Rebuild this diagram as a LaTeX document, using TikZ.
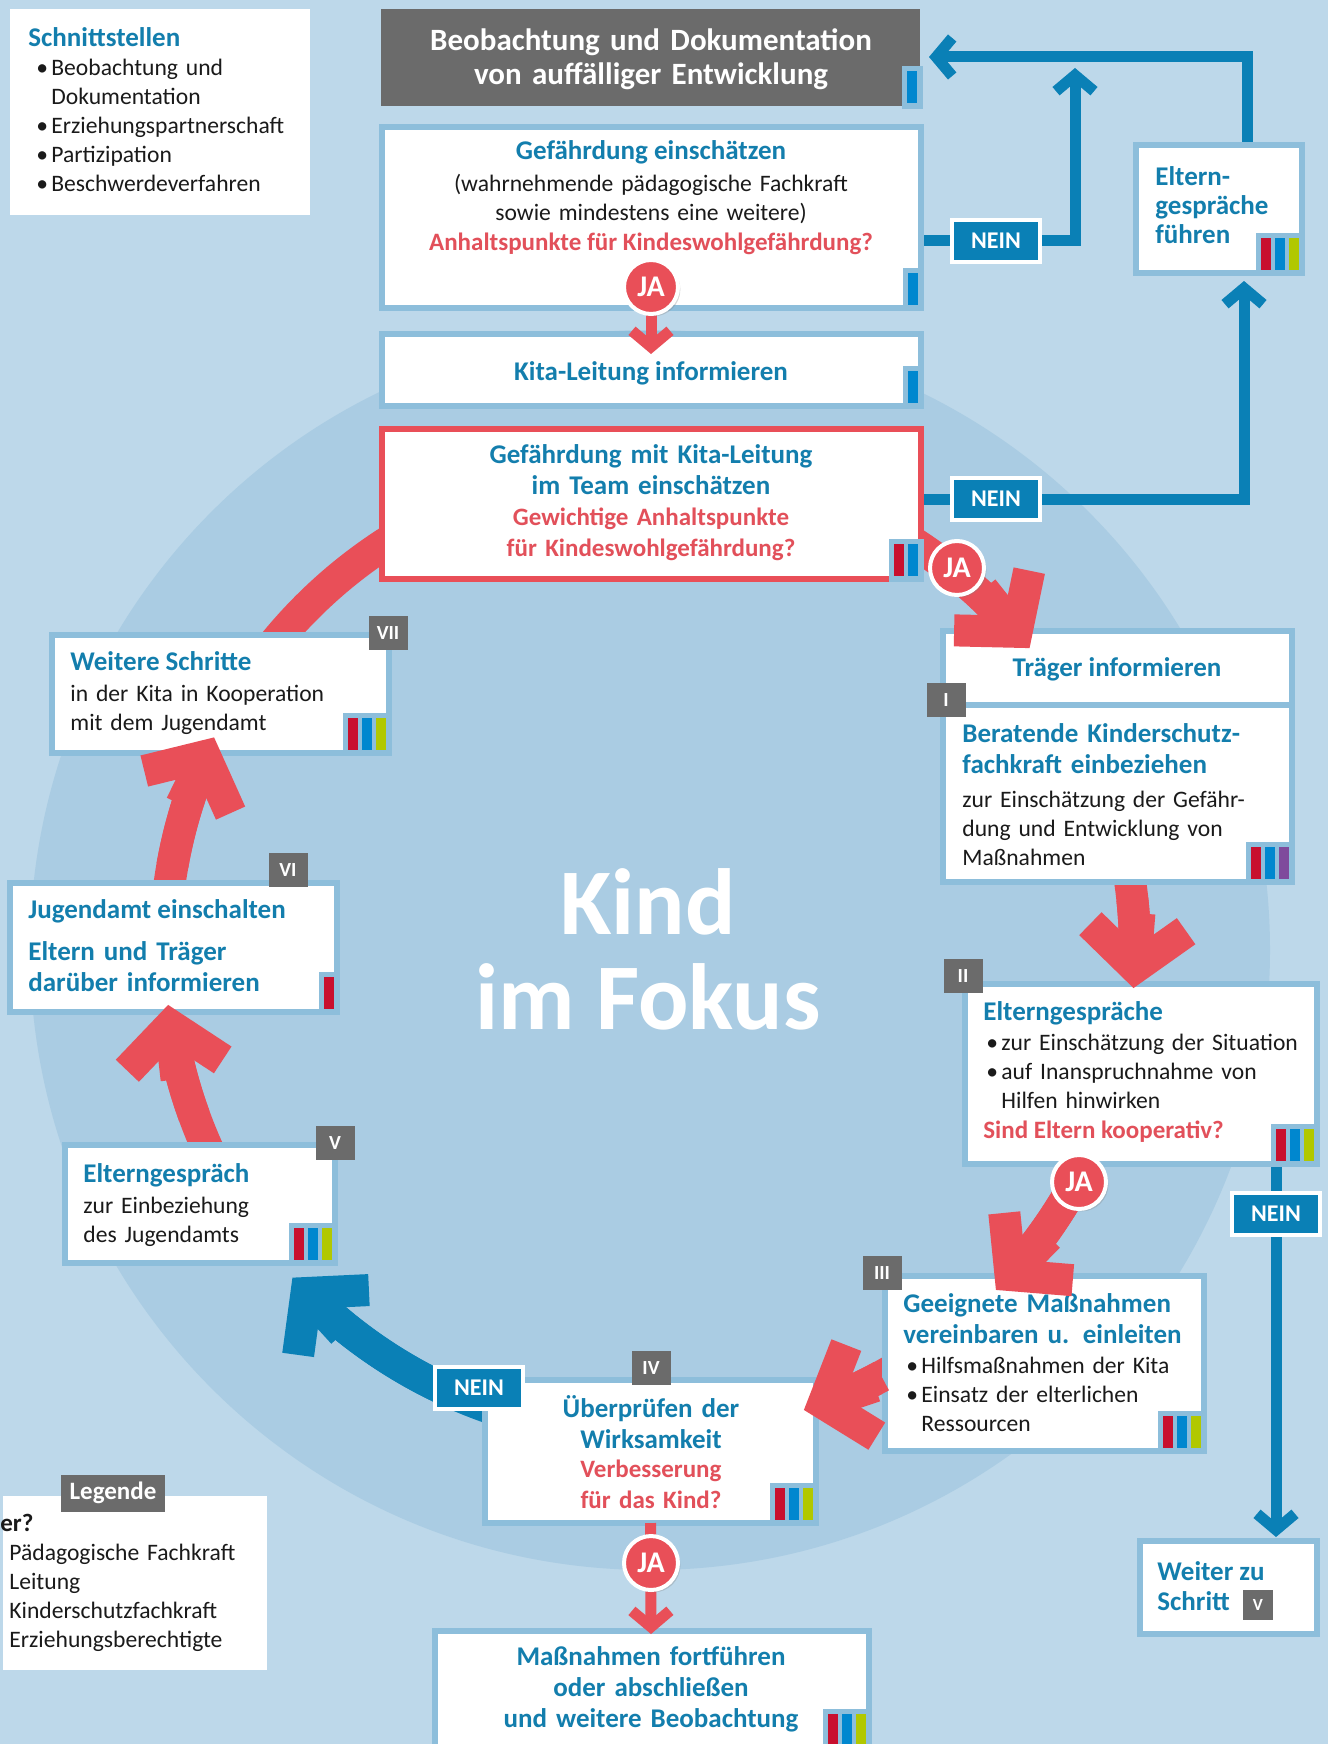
\documentclass[tikz,border=0pt]{standalone}
\usepackage{fontspec}
\setmainfont{Carlito}
\usetikzlibrary{arrows.meta,calc,shadows}
\definecolor{bgc}{HTML}{BDD8EA}
\definecolor{circc}{HTML}{AACCE3}
\definecolor{bordc}{HTML}{8DBEDB}
\definecolor{blueT}{HTML}{137EAD}
\definecolor{redT}{HTML}{E2505A}
\definecolor{redA}{HTML}{E94F58}
\definecolor{blueA}{HTML}{0A80B6}
\definecolor{grayc}{HTML}{6B6B6B}
\definecolor{barR}{HTML}{C8102E}
\definecolor{barB}{HTML}{0087CF}
\definecolor{barG}{HTML}{B1C800}
\definecolor{barP}{HTML}{7F4A9C}
\definecolor{txt}{HTML}{1A1A1A}
\pgfdeclarelayer{bgl}\pgfdeclarelayer{under}\pgfdeclarelayer{over}\pgfdeclarelayer{top}
\pgfsetlayers{bgl,under,main,over,top}
\newcommand\mkbox[6]{\node[#6,anchor=north west,inner sep=0pt,outer sep=0pt,minimum width={(#4-#2-6)*0.5pt},minimum height={(#5-#3-6)*0.5pt}] (#1) at ({#2+3},{#3+3}) {};}
\newcommand\rbars[3]{%
  \fill[bordc] ($(#1.south east)+({-3-(#2-1)*14-10-5},-40)$) rectangle ($(#1.south east)+(3,3)$);
  \foreach \cc [count=\ii from 0] in {#3}{%
    \fill[\cc] ($(#1.south east)+({-3-(#2-1-\ii)*14-10},-3)$) rectangle ++(10,-32);}%
}
% #1 style of shaft, #2 start angle, #3 tip angle
\newcommand\ringshaft[3]{\draw[#1] ($(C)+(#2:485)$) arc[start angle=#2,end angle={#3-5.5},radius=485];}
% #1 style with head, #2 tip angle
\newcommand\ringhead[2]{\draw[#1] ($(C)+(#2:485)+({#2-90}:75)$) -- ($(C)+(#2:485)$);}
\newcommand\mybul{\makebox[7.5pt][l]{\textbullet}}
\newcommand\myind{\hspace*{7.5pt}}
\newcommand\ftitle{\fontsize{13.5}{15.5}\selectfont\bfseries}
\newcommand\fred{\fontsize{12.5}{15.5}\selectfont\bfseries}
\newcommand\fbody{\fontsize{11.8}{14.5}\selectfont}
\begin{document}
\begin{tikzpicture}[x=0.5pt,y=-0.5pt,
  wbox/.style={fill=white,draw=bordc,line width=3pt},
  rbox/.style={fill=white,draw=redA,line width=3pt},
  gbox/.style={fill=grayc},
  pbox/.style={fill=white},
  tbl/.style={text=blueT,font=\ftitle,inner sep=0pt},
  trd/.style={text=redT,font=\fred,inner sep=0pt},
  bdy/.style={text=txt,font=\fbody,inner sep=0pt},
  ml/.style={text width=#1,execute at begin node=\strut},
  steplab/.style={fill=grayc,text=white,font=\fontsize{10}{12}\selectfont\bfseries,minimum width=19.5pt,minimum height=17pt,inner sep=0pt},
  neinbox/.style={fill=blueA,draw=white,line width=2pt,text=white,font=\fontsize{12}{14}\selectfont\bfseries,minimum width=44pt,minimum height=21pt,inner sep=0pt,drop shadow={opacity=0.3,shadow xshift=1.2pt,shadow yshift=-1.2pt}},
  jac/.style={circle,fill=redA,draw=white,line width=2pt,text=white,font=\fontsize{15}{17}\selectfont\bfseries,minimum size=27pt,inner sep=0pt,drop shadow={opacity=0.3,shadow xshift=1.2pt,shadow yshift=-1.2pt}},
  thinb/.style={draw=blueA,line width=5.5pt,-{Straight Barb[length=8pt,width=19pt]}},
  thinr/.style={draw=redA,line width=5.5pt,-{Straight Barb[length=8pt,width=19pt]}},
  bigr/.style={draw=redA,line width=16pt,-{Straight Barb[length=20pt,width=48pt]}},
  bigrn/.style={draw=redA,line width=16pt},
  bigbn/.style={draw=blueA,line width=16pt},
  bigb/.style={draw=blueA,line width=16pt,-{Straight Barb[length=20pt,width=48pt]}}]
\useasboundingbox (0,0) rectangle (1328,1744);
\begin{pgfonlayer}{bgl}
\fill[bgc] (0,0) rectangle (1328,1744);
\fill[circc] (650,950) circle[radius=620];
\end{pgfonlayer}
\coordinate (C) at (650,950);
\coordinate (up1) at (1075,68);
\coordinate (tl) at (1247,57);
\coordinate (gtip) at (929,57);
\coordinate (eltip) at (1244,281);
\coordinate (wtip) at (1276,1537);
\coordinate (kitip) at (651,354);
\coordinate (fintip) at (651,1634);
% boxes
\mkbox{schn}{7}{6}{313}{218}{pbox}
\mkbox{beob}{378}{6}{923}{109}{gbox}
\mkbox{gef}{379}{124}{924}{311}{wbox}
\mkbox{kita}{379}{331}{924}{409}{wbox}
\mkbox{team}{379}{426}{924}{582}{rbox}
\mkbox{eltern}{1133}{142}{1305}{276}{wbox}
\mkbox{traeg}{940}{628}{1295}{708}{wbox}
\mkbox{berat}{940}{702}{1295}{885}{wbox}
\mkbox{zwei}{962}{981}{1320}{1167}{wbox}
\mkbox{drei}{882}{1273}{1207}{1454}{wbox}
\mkbox{vier}{482}{1377}{819}{1526}{wbox}
\mkbox{fort}{432}{1628}{872}{1752}{wbox}
\mkbox{weiter}{1137}{1538}{1320}{1637}{wbox}
\mkbox{fuenf}{62}{1142}{338}{1266}{wbox}
\mkbox{sechs}{7}{880}{340}{1015}{wbox}
\mkbox{sieben}{49}{632}{392}{756}{wbox}
\mkbox{leg}{0}{1493}{270}{1673}{pbox}
% role bars
\rbars{beob}{1}{barB}
\rbars{gef}{1}{barB}
\rbars{kita}{1}{barB}
\rbars{team}{2}{barR,barB}
\rbars{eltern}{3}{barR,barB,barG}
\rbars{berat}{3}{barR,barB,barP}
\rbars{zwei}{3}{barR,barB,barG}
\rbars{drei}{3}{barR,barB,barG}
\rbars{vier}{3}{barR,barB,barG}
\rbars{fort}{3}{barR,barB,barG}
\rbars{fuenf}{3}{barR,barB,barG}
\rbars{sechs}{1}{barR}
\rbars{sieben}{3}{barR,barB,barG}
% texts
\node[tbl,anchor=base west] (tsch) at (28,47) {Schnittstellen};
\node[bdy,ml=200pt,align=left,anchor=north west] (tsch2) at (36,54.7) {\mybul Beobachtung und\\\myind Dokumentation\\\mybul Erziehungspartnerschaft\\\mybul Partizipation\\\mybul Beschwerdeverfahren};
\node[anchor=north,text=white,font=\fontsize{15.5}{17}\selectfont\bfseries,inner sep=0pt,ml=260pt,align=center] (tbeob) at (651,26.2) {Beobachtung und Dokumentation\\von auffälliger Entwicklung};
\node[tbl,anchor=base] (tgef) at (651,160) {Gefährdung einschätzen};
\node[bdy,anchor=north,ml=260pt,align=center] (tgef2) at (651,170.7) {(wahrnehmende pädagogische Fachkraft\\sowie mindestens eine weitere)};
\node[trd,anchor=base] (tgef3) at (651,250) {Anhaltspunkte für Kindeswohlgefährdung?};
\node[tbl,anchor=base] (tkita) at (651,380) {Kita-Leitung informieren};
\node[tbl,anchor=north,ml=260pt,align=center] (tteam) at (651,441.3) {Gefährdung mit Kita-Leitung\\im Team einschätzen};
\node[trd,anchor=north,ml=260pt,align=center] (tteam2) at (651,503.3) {Gewichtige Anhaltspunkte\\für Kindeswohlgefährdung?};
\node[tbl,anchor=north west,ml=100pt,align=left,font=\fontsize{13.5}{14.5}\selectfont\bfseries] (telt) at (1155,164.7) {Eltern-\\gespräche\\führen};
\node[tbl,anchor=base] (ttraeg) at (1117,676) {Träger informieren};
\node[tbl,anchor=north west,ml=170pt,align=left] (tberat) at (962,720.3) {Beratende Kinderschutz-\\fachkraft einbeziehen};
\node[bdy,anchor=north west,ml=170pt,align=left] (tberat2) at (962,786.7) {zur Einschätzung der Gefähr-\\dung und Entwicklung von\\Maßnahmen};
\node[tbl,anchor=base west] (tzwei) at (983,1020) {Elterngespräche};
\node[bdy,anchor=north west,ml=170pt,align=left] (tzwei2) at (986,1029.7) {\mybul zur Einschätzung der Situation\\\mybul auf Inanspruchnahme von\\\myind Hilfen hinwirken};
\node[trd,anchor=base west] (tzwei3) at (983,1138) {Sind Eltern kooperativ?};
\node[tbl,anchor=north west,ml=165pt,align=left] (tdrei) at (903,1290.3) {Geeignete Maßnahmen\\vereinbaren u. einleiten};
\node[bdy,anchor=north west,ml=165pt,align=left] (tdrei2) at (906,1352.7) {\mybul Hilfsmaßnahmen der Kita\\\mybul Einsatz der elterlichen\\\myind Ressourcen};
\node[tbl,anchor=north,ml=160pt,align=center] (tvier) at (651,1395.3) {Überprüfen der\\Wirksamkeit};
\node[trd,anchor=north,ml=160pt,align=center] (tvier2) at (651,1455.3) {Verbesserung\\für das Kind?};
\node[tbl,anchor=north,ml=220pt,align=center] (tfort) at (651,1643.3) {Maßnahmen fortführen\\oder abschließen\\und weitere Beobachtung};
\node[tbl,anchor=base west] (tweit) at (1157,1580) {Weiter zu};
\node[tbl,anchor=base west] (tweit2) at (1157,1610) {Schritt};
\node[tbl,anchor=base west] (tfuenf) at (83,1182) {Elterngespräch};
\node[bdy,anchor=north west,ml=130pt,align=left] (tfuenf2) at (83,1192.7) {zur Einbeziehung\\des Jugendamts};
\node[tbl,anchor=base west] (tsechs) at (28,918) {Jugendamt einschalten};
\node[tbl,anchor=north west,ml=150pt,align=left] (tsechs2) at (28,938.3) {Eltern und Träger\\darüber informieren};
\node[tbl,anchor=base west] (tsieben) at (70,670) {Weitere Schritte};
\node[bdy,anchor=north west,ml=160pt,align=left] (tsieben2) at (70,680.7) {in der Kita in Kooperation\\mit dem Jugendamt};
\node[text=white,font=\fontsize{47}{50}\selectfont\bfseries,inner sep=0pt,anchor=base] (kind1) at (648,934) {Kind};
\node[text=white,font=\fontsize{47}{50}\selectfont\bfseries,inner sep=0pt,anchor=base] (kind2) at (648,1029) {im Fokus};
\node[text=txt,font=\fontsize{12.5}{15}\selectfont\bfseries,inner sep=0pt,anchor=base west] (wer) at (0,1531) {er?};
\node[bdy,anchor=north west,ml=130pt,align=left] (legt) at (9,1539.7) {Pädagogische Fachkraft\\Leitung\\Kinderschutzfachkraft\\Erziehungsberechtigte};
% top layer: labels, NEIN, JA
\begin{pgfonlayer}{top}
\node[steplab] (l1) at (946,700) {I};
\node[steplab] (l2) at (963,976) {II};
\node[steplab] (l3) at (882,1273) {III};
\node[steplab] (l4) at (651,1368) {IV};
\node[steplab] (l5) at (335,1143) {V};
\node[steplab] (l6) at (288,870) {VI};
\node[steplab] (l7) at (388,633) {VII};
\node[steplab,minimum width=15pt,minimum height=15pt,font=\fontsize{8.5}{10}\selectfont\bfseries] (l5b) at (1258,1605) {V};
\node[steplab,minimum width=52pt,minimum height=18.5pt,font=\fontsize{12.5}{14}\selectfont\bfseries] (legl) at (113,1493) {Legende};
\node[neinbox] (nein1) at (996,241) {NEIN};
\node[neinbox] (nein2) at (996,499) {NEIN};
\node[neinbox] (nein3) at (1276,1214) {NEIN};
\node[neinbox] (nein4) at (479,1388) {NEIN};
\node[jac] (ja1) at (651,287) {JA};
\node[jac] (ja2) at (957,568) {JA};
\node[jac] (ja3) at (1079,1182) {JA};
\node[jac] (ja4) at (651,1563) {JA};
\end{pgfonlayer}
% connectors under boxes
\begin{pgfonlayer}{under}
\draw[thinb] (nein1 -| gef.east) -- (nein1.center) -| (up1);
\draw[thinb] (eltern.north -| tl) -- (tl) -- (gtip);
\draw[thinb] (nein2 -| team.east) -- (nein2.center) -| (eltip);
\draw[thinb] (nein3 |- zwei.south) -- (nein3.center) -- (wtip);
\ringshaft{bigrn}{-65}{-38.5}
\ringshaft{bigrn}{-20}{4.5}
\ringshaft{bigrn}{18}{44.5}
\ringshaft{bigrn}{55}{71.5}
\ringshaft{bigbn}{105}{137.5}
\ringshaft{bigrn}{150}{173.5}
\ringshaft{bigrn}{183}{206}
\draw[bigrn] ($(C)+(215:485)$) arc[start angle=215,end angle=240,radius=485];
\end{pgfonlayer}
% arrow heads over boxes
\begin{pgfonlayer}{over}
\ringshaft{bigrn}{-53}{-38.5}
\ringhead{bigr}{-38.5}
\ringshaft{bigrn}{-6}{4.5}
\ringhead{bigr}{4.5}
\ringshaft{bigrn}{28}{44.5}
\ringhead{bigr}{44.5}
\ringshaft{bigrn}{61.5}{71.5}
\ringhead{bigr}{71.5}
\ringshaft{bigbn}{113.5}{137.5}
\ringhead{bigb}{137.5}
\ringshaft{bigrn}{160}{173.5}
\ringhead{bigr}{173.5}
\ringshaft{bigrn}{190}{206}
\ringhead{bigr}{206}
\draw[thinr] (ja1.center) -- (kitip);
\draw[thinr] (vier.south) -- (fintip);
\end{pgfonlayer}
\end{tikzpicture}
\end{document}
